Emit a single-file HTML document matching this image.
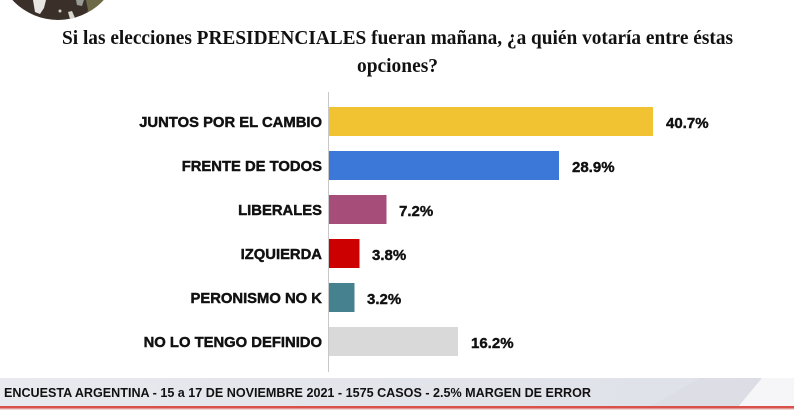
<!DOCTYPE html>
<html>
<head>
<meta charset="utf-8">
<style>
  html, body { margin: 0; padding: 0; background: #ffffff; }
  body { width: 794px; height: 410px; overflow: hidden; }
  svg { display: block; }
</style>
</head>
<body>
<svg width="794" height="410" viewBox="0 0 794 410" xmlns="http://www.w3.org/2000/svg">
  <defs>
    <clipPath id="circ"><circle cx="58" cy="-42" r="62"/></clipPath>
    <linearGradient id="band" x1="0" y1="0" x2="1" y2="0">
      <stop offset="0" stop-color="#e9eaef"/>
      <stop offset="0.3" stop-color="#e4e6ec"/>
      <stop offset="1" stop-color="#dfe1e8"/>
    </linearGradient>
  </defs>
  <rect width="794" height="410" fill="#ffffff"/>

  <!-- top-left photo circle -->
  <g clip-path="url(#circ)">
    <rect x="0" y="-110" width="130" height="140" fill="#3b3029"/>
    <path d="M33 0 L46 0 L44 8 L40 14 L35 12 Z" fill="#e8e6e2"/>
    <path d="M76 0 L84 0 L82 6 L77 5 Z" fill="#9a9a96"/>
    <path d="M86 0 L110 0 L110 20 L84 20 L88 10 Z" fill="#6d6a48"/>
    <path d="M68 12 L72 11 L75 18 L70 19 Z" fill="#d8d6d0"/>
    <circle cx="60" cy="11" r="1.5" fill="#cfcfcf"/>
  </g>

  <!-- title -->
  <text x="397.5" y="44" text-anchor="middle" font-family="Liberation Serif, serif" font-weight="bold" font-size="20" fill="#111" textLength="671" lengthAdjust="spacingAndGlyphs">Si las elecciones PRESIDENCIALES fueran mañana, ¿a quién votaría entre éstas</text>
  <text x="397.5" y="72" text-anchor="middle" font-family="Liberation Serif, serif" font-weight="bold" font-size="20" fill="#111" textLength="81" lengthAdjust="spacingAndGlyphs">opciones?</text>

  <!-- axis line -->
  <line x1="328.5" y1="92" x2="328.5" y2="372" stroke="#c8c8c8" stroke-width="1"/>

  <!-- bars -->
  <rect x="329" y="107" width="324" height="29" fill="#f1c232"/>
  <rect x="329" y="151" width="230" height="29" fill="#3c78d8"/>
  <rect x="329" y="195" width="57.5" height="29" fill="#a64d79"/>
  <rect x="329" y="239" width="30.5" height="29" fill="#cc0000"/>
  <rect x="329" y="283" width="25.5" height="29" fill="#45818e"/>
  <rect x="329" y="327" width="129" height="29" fill="#d9d9d9"/>

  <!-- labels -->
  <g font-family="Liberation Sans, Arial, sans-serif" font-weight="bold" font-size="14.8" fill="#111" stroke="#111" stroke-width="0.45" text-anchor="end">
    <text x="322" y="127">JUNTOS POR EL CAMBIO</text>
    <text x="322" y="171">FRENTE DE TODOS</text>
    <text x="322" y="215">LIBERALES</text>
    <text x="322" y="259">IZQUIERDA</text>
    <text x="322" y="303">PERONISMO NO K</text>
    <text x="322" y="347">NO LO TENGO DEFINIDO</text>
  </g>

  <!-- values -->
  <g font-family="Liberation Sans, Arial, sans-serif" font-weight="bold" font-size="15" fill="#111" stroke="#111" stroke-width="0.4">
    <text x="666" y="128">40.7%</text>
    <text x="572" y="172">28.9%</text>
    <text x="399" y="216">7.2%</text>
    <text x="372" y="260">3.8%</text>
    <text x="367" y="304">3.2%</text>
    <text x="471" y="348">16.2%</text>
  </g>

  <!-- footer band -->
  <rect x="0" y="378" width="794" height="29" fill="url(#band)"/>
  <polygon points="700,378 762,378 738,407 650,407" fill="#d9dbe3" opacity="0.6"/>
  <polygon points="762,378 794,378 794,407 738,407" fill="#f6f6f9"/>
  <rect x="0" y="406" width="794" height="2.5" fill="#d9514a"/>
  <rect x="0" y="408.5" width="794" height="1.5" fill="#f0d8d6"/>
  <text x="4" y="397" font-family="Liberation Sans, Arial, sans-serif" font-weight="bold" font-size="13" fill="#111" textLength="587" lengthAdjust="spacingAndGlyphs">ENCUESTA ARGENTINA - 15 a 17 DE NOVIEMBRE 2021 - 1575 CASOS - 2.5% MARGEN DE ERROR</text>
</svg>
</body>
</html>
